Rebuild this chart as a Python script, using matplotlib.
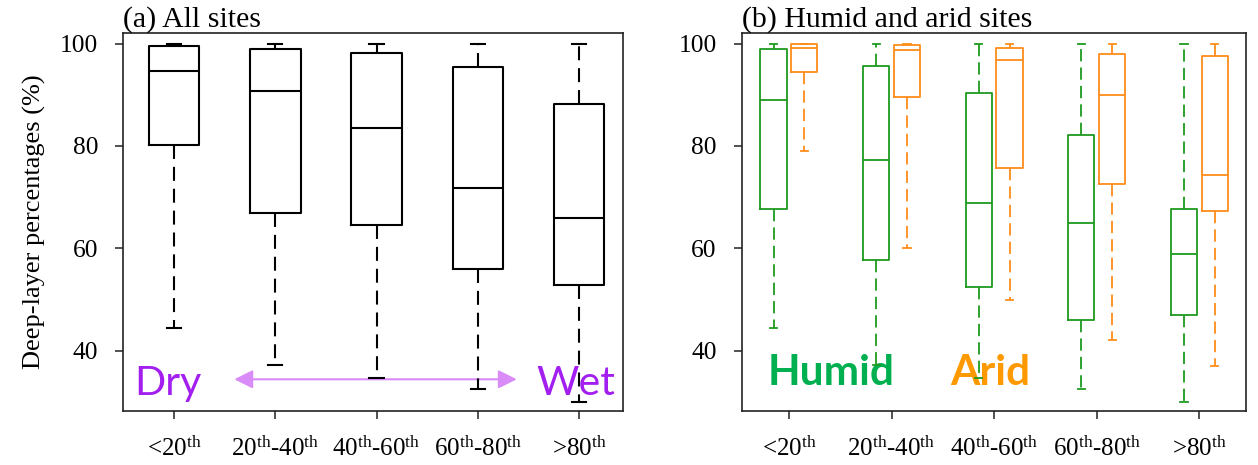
import matplotlib
matplotlib.use("Agg")
import matplotlib.pyplot as plt

plt.rcParams['font.family'] = ['Liberation Serif', 'DejaVu Serif']
plt.rcParams['mathtext.fontset'] = 'custom'
plt.rcParams['mathtext.rm'] = 'Liberation Serif'
plt.rcParams['mathtext.it'] = 'Liberation Serif:italic'
plt.rcParams['mathtext.bf'] = 'Liberation Serif:bold'

# ---------------- data ----------------
categories = [r'<20$^{\rm th}$', r'20$^{\rm th}$-40$^{\rm th}$', r'40$^{\rm th}$-60$^{\rm th}$',
              r'60$^{\rm th}$-80$^{\rm th}$', r'>80$^{\rm th}$']

# All sites: lower whisker, Q1, median, Q3, upper whisker
all_low = [44.4, 37.1, 34.6, 32.5, 29.9]
all_q1 = [80.1, 66.9, 64.5, 56.0, 52.9]
all_med = [94.6, 90.7, 83.4, 71.8, 66.0]
all_q3 = [99.6, 99.0, 98.1, 95.5, 88.1]
all_high = [100, 100, 100, 100, 100]

humid_low = [44.4, 37.1, 34.6, 32.5, 30.0]
humid_q1 = [67.7, 57.8, 52.4, 45.9, 47.0]
humid_med = [88.9, 77.2, 68.9, 64.9, 58.8]
humid_q3 = [99.0, 95.6, 90.4, 82.2, 67.7]
humid_high = [100, 100, 100, 100, 100]

arid_low = [79.0, 60.1, 49.8, 42.0, 36.9]
arid_q1 = [94.5, 89.5, 75.7, 72.6, 67.3]
arid_med = [99.2, 98.7, 96.7, 89.9, 74.3]
arid_q3 = [99.9, 99.7, 99.2, 98.0, 97.5]
arid_high = [100, 100, 100, 100, 100]

yticks = [40, 60, 80, 100]


def stats(lo, q1, med, q3, hi):
    return [dict(whislo=a, q1=b, med=c, q3=d, whishi=e, fliers=[])
            for a, b, c, d, e in zip(lo, q1, med, q3, hi)]


fig = plt.figure(figsize=(12.58, 4.65), dpi=100)
axL = fig.add_axes([0.098, 0.1161, 0.397, 0.8123])
axR = fig.add_axes([0.5896, 0.1161, 0.4009, 0.8123])

GREEN = '#1E9A1E'
ORANGE = '#FF8C1A'
pos = [1, 2, 3, 4, 5]


def draw(ax, st, positions, width, color, lw, capw, dash):
    ax.bxp(st, positions=positions, widths=width, showfliers=False,
           capwidths=capw,
           boxprops=dict(color=color, lw=lw),
           medianprops=dict(color=color, lw=lw),
           whiskerprops=dict(color=color, lw=lw, linestyle=(0, dash)),
           capprops=dict(color=color, lw=lw),
           zorder=3)


draw(axL, stats(all_low, all_q1, all_med, all_q3, all_high), pos, 0.5, 'black', 1.5, 0.14, (6.7, 3.8))
draw(axR, stats(humid_low, humid_q1, humid_med, humid_q3, humid_high),
     [p - 0.15 for p in pos], 0.256, GREEN, 1.3, 0.07, (6.8, 3.4))
draw(axR, stats(arid_low, arid_q1, arid_med, arid_q3, arid_high),
     [p + 0.15 for p in pos], 0.256, ORANGE, 1.3, 0.07, (6.8, 3.4))

for ax, xl in ((axL, (0.5, 5.43)), (axR, (0.54, 5.455))):
    ax.set_xlim(*xl)
    ax.set_ylim(28.2, 102.0)
    ax.set_xticks(pos)
    ax.set_xticklabels(categories, fontsize=18)
    ax.set_yticks(yticks)
    ax.set_yticklabels([str(v) for v in yticks], fontsize=18.4)
    ax.tick_params(direction='out', length=6, width=1.1, pad=12, color='#222222')
    for s in ax.spines.values():
        s.set_linewidth(1.2)
        s.set_color('#222222')

axL.set_ylabel('Deep-layer percentages (%)', fontsize=19, labelpad=10)
axL.set_title('(a) All sites', loc='left', fontsize=21.5, pad=2, x=0.0)
axR.set_title('(b) Humid and arid sites', loc='left', fontsize=21.5, pad=2, x=0.0)

# annotations
PURPLE = '#A21FF0'
axL.text(0.944, 31.3, 'Dry', color=PURPLE, fontsize=29.5, family=['Lato', 'DejaVu Sans'],
         ha='center', va='baseline', zorder=1)
axL.text(4.967, 31.3, 'Wet', color=PURPLE, fontsize=29.5, family=['Lato', 'DejaVu Sans'],
         ha='center', va='baseline', zorder=1)
axL.annotate('', xy=(4.384, 34.4), xytext=(1.596, 34.4),
             arrowprops=dict(arrowstyle='<|-|>', color='#D98BF7', lw=1.5,
                             mutation_scale=28, shrinkA=0, shrinkB=0),
             zorder=1)

axR.text(1.408, 33.3, 'Humid', color='#00B050', fontsize=30.5, fontweight='bold',
         family=['Lato', 'DejaVu Sans'], ha='center', va='baseline', zorder=1)
axR.text(2.96, 33.3, 'Arid', color='#FF9900', fontsize=30.5, fontweight='bold',
         family=['Lato', 'DejaVu Sans'], ha='center', va='baseline', zorder=1)

fig.savefig('out.png', dpi=100)
